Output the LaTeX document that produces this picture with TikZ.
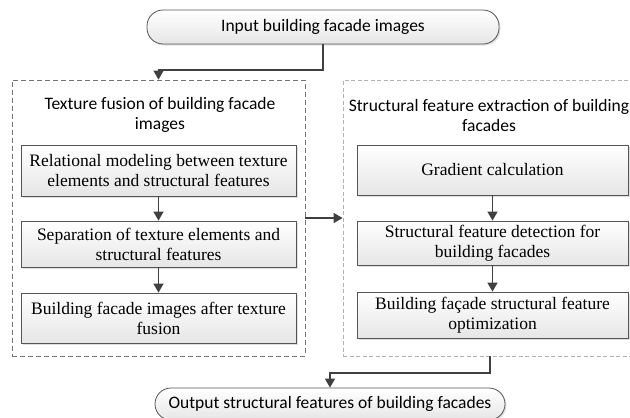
\documentclass[tikz,border=0pt]{standalone}
\usepackage{fontspec}
\setmainfont{Liberation Serif}
\newfontfamily\serfont{Liberation Serif}
\newfontfamily\calfont{Carlito}
\usetikzlibrary{arrows.meta,shadows}
\definecolor{edge}{HTML}{555555}
\definecolor{wire}{HTML}{404040}
\definecolor{fillbot}{HTML}{E6E6E6}
\tikzset{
  softshadow/.style={drop shadow={opacity=0.25,shadow xshift=1.5pt,shadow yshift=-1.5pt,fill=gray}},
  procbox/.style={draw=edge,line width=0.8pt,top color=white,bottom color=fillbot,
    softshadow,align=center,font=\serfont\fontsize{17.5}{20}\selectfont,inner sep=0pt},
  termbox/.style={draw=edge,line width=0.8pt,top color=white,bottom color=fillbot,
    softshadow,rounded corners=16pt,align=center,
    font=\calfont\fontsize{17.5}{20}\selectfont,inner sep=0pt},
  groupdark/.style={draw=black!55,line width=0.8pt,dash pattern=on 5pt off 3pt},
  grouplight/.style={draw=black!30,line width=0.8pt,dash pattern=on 4pt off 2.5pt},
  grouptitle/.style={align=center,font=\calfont\fontsize{17.5}{20}\selectfont,inner sep=0pt},
  flow/.style={draw=wire,line width=1.5pt,-{Triangle[length=9pt,width=10pt]}},
}
\begin{document}
\begin{tikzpicture}[x=1pt,y=-1pt]
\useasboundingbox (0,0) rectangle (630,418);
\clip (0,0) rectangle (630,418);

% start and end terminals
\node[termbox,minimum width=352pt,minimum height=34pt] (in) at (323,27) {Input building facade images};
\node[termbox,minimum width=350pt,minimum height=32pt] (out) at (330,404) {Output structural features of building facades};

% group frames
\node[groupdark,minimum width=293pt,minimum height=276pt,inner sep=0pt] (lg) at (158.5,218) {};
\node[grouplight,minimum width=297pt,minimum height=276pt,inner sep=0pt] (rg) at (491.5,218) {};

% group titles
\node[grouptitle] (lt) at (160,115) {Texture fusion of building facade\\images};
\node[grouptitle] (rt) at (489,115) {Structural feature extraction of building\\facades};

% texture fusion steps
\node[procbox,minimum width=275pt,minimum height=51pt] (l1) at (158.5,170.5) {Relational modeling between texture\\elements and structural features};
\node[procbox,minimum width=275pt,minimum height=46pt] (l2) at (158.5,244) {Separation of texture elements and\\structural features};
\node[procbox,minimum width=275pt,minimum height=50pt] (l3) at (158.5,318) {Building facade images after texture\\fusion};

% structural feature extraction steps
\node[procbox,minimum width=271pt,minimum height=50pt] (r1) at (492.5,170) {Gradient calculation};
\node[procbox,minimum width=271pt,minimum height=44pt] (r2) at (492.5,243) {Structural feature detection for\\building facades};
\node[procbox,minimum width=271pt,minimum height=46pt] (r3) at (492.5,315) {Building façade structural feature\\optimization};

% connectors
\coordinate (k1) at (323,70);
\coordinate (k2) at (158.5,70);
\draw[flow] (in.south) -- (k1) -- (k2) -- (lg.north);

\draw[flow] (l1) -- (l2);
\draw[flow] (l2) -- (l3);
\draw[flow] (r1) -- (r2);
\draw[flow] (r2) -- (r3);

\draw[flow] (lg.east) -- (rg.west);

\coordinate (b0) at (490,356);
\coordinate (b1) at (490,373);
\coordinate (b2) at (330,373);
\draw[flow] (b0) -- (b1) -- (b2) -- (out.north);
\end{tikzpicture}
\end{document}
